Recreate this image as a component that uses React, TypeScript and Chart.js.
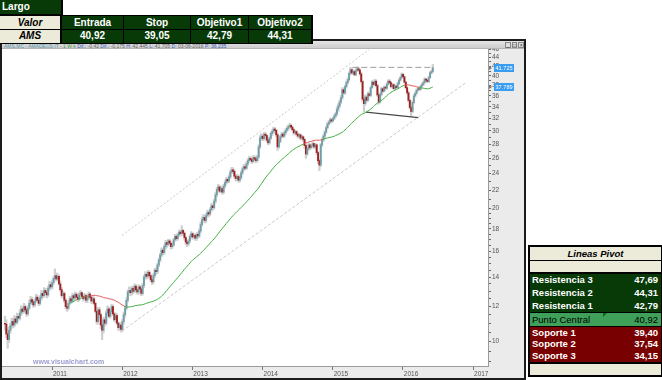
import React, { useEffect, useRef } from 'react';
import { Chart, registerables } from 'chart.js';
Chart.register(...registerables);

// ---------- data ----------
const FIRST_DATE = 2010.33; // first weekly bar (year fraction)
const WEEKS_PER_YEAR = 52;
const FIRST_OPEN = 11.0;

const CLOSE = [
  10.95, 10.40, 10.10, 10.60, 10.85, 11.10, 10.90, 11.25, 11.05, 11.40, 11.30, 11.60, 11.85, 11.70, 12.00, 11.80, 11.55, 11.90, 12.20, 12.45, 12.30, 12.10, 12.35, 12.60, 12.40, 12.20, 12.55, 12.85, 12.70, 13.05, 12.90, 12.75, 13.20, 13.45, 13.30,
  13.60, 13.90, 14.10, 13.85, 14.05, 13.50, 13.10, 12.70, 12.85, 12.40, 12.00, 11.90, 12.20, 12.50, 12.35, 12.70, 12.55, 12.80, 12.60, 12.45, 12.75, 12.90, 12.65, 12.50, 12.70, 12.40,
  12.55, 12.80, 12.60, 12.35, 12.50, 12.20, 11.70, 11.10, 11.80, 11.50, 10.90, 10.60, 11.20, 11.00, 11.60, 11.85, 11.40, 11.70, 12.00, 11.55, 11.20, 11.45, 11.00, 10.75, 10.90, 10.65, 11.10, 11.50, 11.90, 12.40, 12.95, 13.05,
  12.90, 13.20, 13.00, 13.35, 13.10, 12.95, 13.30, 13.15, 12.85, 13.40, 14.00, 14.20, 14.05, 14.35, 14.10, 13.80, 13.65, 14.10, 14.50, 14.40, 14.90, 15.30, 15.70, 16.10, 15.90, 16.40, 16.75, 16.60, 16.90, 16.70, 16.40, 16.55, 17.00, 17.30, 17.10, 17.45, 17.70, 17.55, 17.85, 17.60, 17.20, 16.80, 16.65, 16.90, 17.30, 17.55, 17.25, 17.40, 17.15, 17.50, 17.35,
  17.80, 18.40, 18.90, 19.10, 18.80, 19.30, 19.60, 19.45, 19.90, 20.30, 20.10, 20.80, 21.50, 22.10, 22.40, 21.90, 22.20, 21.80, 22.50, 22.90, 23.30, 23.10, 23.60, 24.20, 24.50, 24.30, 23.70, 23.40, 23.65, 23.20, 23.50, 24.10, 24.60, 24.90, 24.70, 25.30, 25.70, 26.00, 25.80, 25.60, 26.10, 25.90, 25.70, 26.20, 27.60, 28.90,
  29.20, 28.80, 29.50, 29.30, 28.60, 28.20, 28.90, 29.60, 29.90, 30.30, 30.10, 29.40, 27.60, 28.40, 29.10, 29.50, 29.20, 29.70, 30.10, 30.40, 30.70, 30.90, 30.60, 30.20, 29.70, 29.90, 29.50, 29.20, 29.40, 28.90, 29.10, 28.70, 27.80, 26.60, 27.30, 27.90, 27.50, 27.80, 28.10, 27.60, 27.90, 26.80, 25.70, 25.10, 27.90, 28.60, 29.20, 29.80, 30.50, 31.10, 31.40, 31.80, 31.60, 32.00, 32.40, 32.80,
  33.60, 34.20, 34.90, 35.70, 37.20, 36.60, 37.80, 38.60, 39.20, 40.50, 41.30, 40.60, 40.90, 40.20, 41.10, 41.50, 41.20, 40.40, 38.80, 35.40, 34.60, 35.80, 35.20, 36.40, 36.10, 37.60, 38.70, 38.20, 38.90, 38.00, 36.20, 34.90, 36.30, 37.40, 36.90, 37.70, 37.50, 38.30, 38.90, 38.60, 37.80, 38.20, 37.40, 37.90, 37.60, 38.40, 39.10, 39.60, 40.30, 39.80, 38.70, 37.60, 36.60, 35.20, 33.90, 33.20, 34.80, 36.00, 36.50, 37.10, 37.40, 37.30, 37.90, 38.20, 38.60, 39.30, 39.10, 38.80, 39.60, 40.60, 40.90, 41.725,
];

const HIGH = [
  11.40, 11.20, 10.70, 10.80, 11.00, 11.30, 11.25, 11.45, 11.40, 11.60, 11.55, 11.80, 12.05, 12.00, 12.20, 12.10, 11.95, 12.05, 12.40, 12.65, 12.60, 12.45, 12.50, 12.80, 12.75, 12.55, 12.70, 13.05, 13.00, 13.25, 13.20, 13.05, 13.35, 13.70, 13.60,
  13.75, 14.05, 14.60, 14.30, 14.25, 14.15, 13.70, 13.25, 13.00, 12.95, 12.50, 12.20, 12.35, 12.65, 12.60, 12.85, 12.80, 12.95, 12.90, 12.70, 12.90, 13.05, 12.95, 12.80, 12.85, 12.80,
  12.70, 12.95, 12.90, 12.70, 12.65, 12.60, 12.30, 11.85, 11.95, 11.95, 11.60, 11.05, 11.35, 11.35, 11.75, 12.05, 11.95, 11.85, 12.15, 12.10, 11.65, 11.60, 11.55, 11.10, 11.05, 11.00, 11.25, 11.65, 12.05, 12.55, 13.10, 13.30,
  13.25, 13.35, 13.30, 13.50, 13.45, 13.25, 13.45, 13.40, 13.25, 13.55, 14.15, 14.40, 14.35, 14.50, 14.45, 14.20, 13.95, 14.25, 14.65, 14.70, 15.05, 15.45, 15.85, 16.30, 16.25, 16.55, 16.95, 16.90, 17.05, 17.05, 16.85, 16.75, 17.15, 17.50, 17.45, 17.60, 17.90, 17.85, 18.30, 17.95, 17.70, 17.30, 16.95, 17.05, 17.45, 17.75, 17.65, 17.55, 17.50, 17.65, 17.70,
  18.00, 18.65, 19.15, 19.40, 19.30, 19.50, 19.85, 19.80, 20.10, 20.55, 20.50, 21.00, 21.75, 22.35, 22.70, 22.60, 22.45, 22.40, 22.70, 23.15, 23.55, 23.50, 23.85, 24.45, 24.80, 24.75, 24.50, 23.90, 23.90, 23.85, 23.75, 24.35, 24.85, 25.20, 25.10, 25.55, 25.95, 26.30, 26.25, 26.05, 26.40, 26.35, 26.15, 26.45, 27.90, 29.30,
  29.60, 29.40, 29.80, 29.75, 29.40, 28.80, 29.10, 29.85, 30.20, 30.60, 30.55, 30.20, 29.60, 28.70, 29.35, 29.80, 29.70, 29.95, 30.35, 30.70, 30.95, 31.20, 31.10, 30.75, 30.35, 30.15, 30.05, 29.60, 29.65, 29.50, 29.35, 29.25, 28.85, 27.95, 27.60, 28.15, 28.05, 28.00, 28.35, 28.20, 28.10, 28.05, 26.95, 25.95, 28.10, 28.90, 29.45, 30.05, 30.75, 31.40, 31.70, 32.10, 32.00, 32.25, 32.70, 33.10,
  34.00, 34.60, 35.30, 36.10, 37.60, 37.50, 38.10, 38.90, 39.60, 40.80, 41.80, 41.60, 41.30, 41.20, 41.50, 41.90, 41.85, 41.50, 40.70, 39.10, 35.90, 36.20, 36.10, 36.70, 36.80, 37.90, 39.00, 38.95, 39.30, 39.20, 38.30, 36.60, 36.60, 37.70, 37.60, 37.95, 37.90, 38.60, 39.20, 39.20, 38.80, 38.50, 38.40, 38.10, 38.10, 38.70, 39.40, 39.90, 40.60, 40.50, 39.95, 38.90, 37.80, 36.90, 35.40, 34.30, 35.10, 36.30, 36.80, 37.40, 37.70, 37.60, 38.10, 38.50, 38.90, 39.60, 39.50, 39.30, 39.90, 40.90, 41.20, 42.45,
];

const LOW = [
  10.60, 10.20, 9.65, 9.95, 10.45, 10.70, 10.75, 10.80, 10.95, 10.95, 11.15, 11.20, 11.45, 11.55, 11.60, 11.65, 11.40, 11.45, 11.80, 12.10, 12.15, 11.95, 12.00, 12.25, 12.30, 12.05, 12.10, 12.40, 12.55, 12.60, 12.75, 12.55, 12.65, 13.05, 13.15,
  13.15, 13.45, 13.75, 13.70, 13.75, 13.40, 13.00, 12.55, 12.60, 12.25, 11.85, 11.70, 11.80, 12.10, 12.20, 12.25, 12.40, 12.45, 12.50, 12.30, 12.35, 12.65, 12.55, 12.35, 12.40, 12.25,
  12.25, 12.45, 12.50, 12.20, 12.20, 12.10, 11.60, 10.95, 10.95, 11.30, 10.70, 10.10, 10.45, 10.85, 10.90, 11.45, 11.30, 11.30, 11.55, 11.45, 11.10, 11.05, 10.90, 10.60, 10.60, 10.50, 10.55, 10.95, 11.35, 11.80, 12.30, 12.80,
  12.70, 12.75, 12.85, 12.90, 12.95, 12.80, 12.80, 13.00, 12.70, 12.75, 13.25, 13.85, 13.85, 13.90, 13.95, 13.65, 13.45, 13.55, 13.95, 14.20, 14.25, 14.75, 15.15, 15.55, 15.70, 15.75, 16.20, 16.35, 16.45, 16.50, 16.20, 16.25, 16.45, 16.85, 16.95, 16.95, 17.30, 17.35, 17.40, 17.40, 16.95, 16.55, 16.40, 16.50, 16.75, 17.15, 17.05, 17.10, 16.95, 16.95, 17.15,
  17.20, 17.65, 18.25, 18.70, 18.55, 18.60, 19.10, 19.20, 19.30, 19.70, 19.85, 19.95, 20.60, 21.30, 21.90, 21.70, 21.75, 21.55, 21.65, 22.30, 22.70, 22.85, 22.90, 23.40, 24.00, 24.00, 23.45, 23.10, 23.20, 22.95, 23.00, 23.30, 23.90, 24.40, 24.45, 24.55, 25.05, 25.50, 25.50, 25.30, 25.40, 25.65, 25.40, 25.50, 26.00, 27.40,
  28.60, 28.50, 28.60, 29.00, 28.30, 27.90, 28.00, 28.70, 29.30, 29.60, 29.80, 29.10, 27.10, 27.40, 28.20, 28.90, 28.95, 29.00, 29.45, 29.90, 30.10, 30.50, 30.30, 29.95, 29.40, 29.50, 29.20, 28.90, 29.00, 28.60, 28.70, 28.40, 27.40, 26.00, 26.40, 27.10, 27.20, 27.30, 27.60, 27.40, 27.30, 26.50, 25.30, 24.40, 24.90, 27.60, 28.40, 28.95, 29.60, 30.30, 30.90, 31.20, 31.30, 31.40, 31.80, 32.20,
  32.50, 33.20, 33.90, 34.60, 35.40, 36.30, 36.30, 37.50, 38.30, 38.90, 40.20, 40.30, 40.30, 40.00, 40.00, 40.90, 40.90, 40.10, 38.50, 35.00, 33.10, 34.30, 34.90, 35.00, 35.80, 35.90, 37.40, 37.90, 38.00, 37.70, 35.90, 34.50, 34.70, 36.10, 36.70, 36.80, 37.20, 37.30, 38.10, 38.30, 37.50, 37.60, 37.20, 37.30, 37.30, 37.50, 38.20, 38.90, 39.40, 39.60, 38.50, 37.30, 36.30, 34.90, 33.60, 32.30, 33.00, 34.60, 35.80, 36.30, 36.90, 37.00, 37.10, 37.70, 38.00, 38.40, 38.80, 38.60, 38.60, 39.40, 40.40, 40.70,
];

const MA_PERIOD = 50;
const LAST_CLOSE_TAG = 41.725;
const LAST_MA_TAG = 37.789;

const YEAR_TICKS = [2011, 2012, 2013, 2014, 2015, 2016, 2017];
const Y_LABELS = [10, 12, 14, 16, 18, 20, 22, 24, 26, 28, 30, 32, 34, 36, 38, 40, 42, 44, 46];

const UPPER_CHANNEL = [{ x: 2012.0, y: 17.4 }, { x: 2015.52, y: 45.9 }];
const LOWER_CHANNEL = [{ x: 2012.0, y: 10.57 }, { x: 2016.89, y: 38.5 }];
const RESISTANCE = [{ x: 2015.28, y: 41.8 }, { x: 2016.42, y: 41.8 }];
const SUPPORT = [{ x: 2015.475, y: 33.1 }, { x: 2016.22, y: 32.15 }];

const TRADE_HEADERS = ['Entrada', 'Stop', 'Objetivo1', 'Objetivo2'];
const TRADE_VALUES = ['40,92', '39,05', '42,79', '44,31'];
const RESISTANCES = [['Resistencia 3', '47,69'], ['Resistencia 2', '44,31'], ['Resistencia 1', '42,79']];
const PIVOT = ['Punto Central', '40,92'];
const SUPPORTS = [['Soporte 1', '39,40'], ['Soporte 2', '37,54'], ['Soporte 3', '34,15']];

// ---------- styles ----------
const DARK_GREEN = '#073a07';
const DARK_RED = '#780000';
const MID_GREEN = '#3fa05a';
const BEIGE = '#ecebd9';
const UP = '#6f9ea8';
const DOWN = '#a21e1e';
const WICK = '#cfcfcf';
const MA_GREEN = '#3fae3f';
const MA_RED = '#e25555';

const X_MIN = 2010.2874;
const X_MAX = 2017.2135;

export default function App() {
  const ref = useRef<HTMLCanvasElement>(null);

  useEffect(() => {
    document.body.style.margin = '0';
    const dates = CLOSE.map((_, i) => FIRST_DATE + i / WEEKS_PER_YEAR);
    const opens = CLOSE.map((_, i) => (i === 0 ? FIRST_OPEN : CLOSE[i - 1]));
    const wickData = CLOSE.map((_, i) => ({ x: dates[i], y: [LOW[i], HIGH[i]] }));
    const bodyData = CLOSE.map((c, i) => ({ x: dates[i], y: [opens[i], c] }));
    const bodyColors = CLOSE.map((c, i) => (c >= opens[i] ? UP : DOWN));
    const maData: { x: number; y: number }[] = [];
    const maBelow: boolean[] = [];
    for (let i = MA_PERIOD - 1; i < CLOSE.length; i++) {
      let s = 0;
      for (let k = i - MA_PERIOD + 1; k <= i; k++) s += CLOSE[k];
      const m = s / MA_PERIOD;
      maData.push({ x: dates[i], y: m });
      maBelow.push(CLOSE[i] < m);
    }

    const yTicks: number[] = [];
    for (let v = 9; v <= 46.001; v += v < 20 ? 0.5 : 1) yTicks.push(Math.round(v * 10) / 10);

    const bgPlugin = {
      id: 'bg',
      beforeDraw(c: any) {
        const { ctx, chartArea: a, width, height } = c;
        ctx.save();
        ctx.fillStyle = '#ebebeb';
        ctx.fillRect(0, 0, width, height);
        ctx.fillStyle = '#ffffff';
        ctx.fillRect(a.left, a.top, a.right - a.left, a.bottom - a.top);
        ctx.restore();
      },
      afterDraw(c: any) {
        const { ctx, chartArea: a, scales } = c;
        ctx.save();
        ctx.font = '5.6px Arial';
        ctx.textBaseline = 'middle';
        [LAST_CLOSE_TAG, LAST_MA_TAG].forEach((v) => {
          const y = Math.round(scales.y.getPixelForValue(v));
          const x = a.right + 6;
          ctx.fillStyle = '#777';
          ctx.beginPath();
          ctx.moveTo(a.right + 1, y - 2);
          ctx.lineTo(a.right + 4, y);
          ctx.lineTo(a.right + 1, y + 2);
          ctx.fill();
          ctx.fillStyle = '#3a9cf0';
          ctx.fillRect(x, y - 4, 20, 8);
          ctx.fillStyle = '#ffffff';
          ctx.fillText(v.toFixed(3), x + 1.5, y + 0.5);
        });
        ctx.restore();
      },
    };

    const lineBase = { type: 'line' as const, pointRadius: 0, borderWidth: 1, fill: false, tension: 0 };

    const chart = new Chart(ref.current as HTMLCanvasElement, {
      type: 'bar',
      data: {
        datasets: [
          {
            ...lineBase,
            data: maData,
            borderColor: MA_GREEN,
            segment: { borderColor: (ctx: any) => (maBelow[ctx.p1DataIndex] ? MA_RED : MA_GREEN) },
            order: 0,
          },
          { ...lineBase, data: UPPER_CHANNEL, borderColor: '#c9c9c9', borderDash: [2, 2], order: 1 },
          { ...lineBase, data: LOWER_CHANNEL, borderColor: '#c9c9c9', borderDash: [3, 2], order: 2 },
          { ...lineBase, data: RESISTANCE, borderColor: '#9c9c9c', borderDash: [6, 3], order: 3 },
          { ...lineBase, data: SUPPORT, borderColor: '#4a4a4a', borderWidth: 1.3, order: 4 },
          { type: 'bar', data: bodyData as any, backgroundColor: bodyColors, barThickness: 1.2, grouped: false, borderWidth: 0, order: 5 } as any,
          { type: 'bar', data: wickData as any, backgroundColor: WICK, barThickness: 1.6, grouped: false, borderWidth: 0, order: 6 } as any,
        ] as any,
      },
      options: {
        responsive: false,
        devicePixelRatio: 1,
        animation: false,
        layout: { padding: 0 },
        plugins: { legend: { display: false }, tooltip: { enabled: false } },
        scales: {
          x: {
            type: 'linear',
            min: X_MIN,
            max: X_MAX,
            offset: false,
            position: 'bottom',
            afterBuildTicks: (s: any) => {
              s.ticks = YEAR_TICKS.map((v) => ({ value: v }));
            },
            afterFit: (s: any) => {
              s.height = 12;
              s.paddingLeft = 0;
              s.paddingRight = 0;
            },
            ticks: {
              autoSkip: false,
              align: 'start',
              maxRotation: 0,
              padding: 0,
              labelOffset: 1,
              color: '#555',
              font: { size: 6.5, family: 'Arial' },
              callback: (v: any) => String(v),
            },
            grid: { drawOnChartArea: false, offset: false, tickLength: 4, color: '#777' },
            border: { display: true, color: '#9a9a9a' },
          },
          y: {
            type: 'logarithmic',
            position: 'right',
            min: 8.8,
            max: 46.0,
            afterBuildTicks: (s: any) => {
              s.ticks = yTicks.map((v) => ({ value: v }));
            },
            afterFit: (s: any) => {
              s.width = 36;
              s.paddingTop = 0;
              s.paddingBottom = 0;
            },
            ticks: {
              autoSkip: false,
              padding: 1,
              color: '#555',
              font: { size: 6.5, family: 'Arial' },
              callback: (v: any) => (Y_LABELS.includes(Number(v)) ? String(v) : ''),
            },
            grid: { drawOnChartArea: false, tickLength: 3, color: '#666' },
            border: { display: true, color: '#9a9a9a' },
          },
        },
      } as any,
      plugins: [bgPlugin],
    });
    return () => chart.destroy();
  }, []);

  const abs = (left: number, top: number, width: number, height: number, extra: any = {}) => ({
    position: 'absolute' as const,
    left,
    top,
    width,
    height,
    boxSizing: 'border-box' as const,
    ...extra,
  });
  const cellText = {
    display: 'flex',
    alignItems: 'center',
    justifyContent: 'center',
    fontWeight: 700,
    fontSize: 10,
    lineHeight: '10px',
    whiteSpace: 'nowrap',
  };

  const colLeft = [62, 124, 191, 249];
  const colWidth = [61, 66, 57, 62];

  const pivotRow = (label: string, value: string, color: string, weight: number, h: number) => (
    <div
      key={label}
      style={{
        height: h,
        display: 'flex',
        alignItems: 'center',
        justifyContent: 'space-between',
        padding: '0 3px 0 2px',
        color,
        fontWeight: weight,
        fontSize: 9.5,
        lineHeight: '10px',
        whiteSpace: 'nowrap',
      }}
    >
      <span>{label}</span>
      <span>{value}</span>
    </div>
  );

  return (
    <div
      style={{
        position: 'fixed',
        left: 0,
        top: 0,
        width: 662,
        height: 380,
        background: '#fff',
        overflow: 'hidden',
        fontFamily: 'Arial, "Liberation Sans", sans-serif',
      }}
    >
      {/* chart window */}
      <div style={abs(0, 39, 526, 341, { border: '2px solid #1c1c1c', background: '#fff' })}>
        <div
          style={abs(0, 0, 522, 8, {
            background: 'linear-gradient(#e6e6e6, #cdcdcd)',
            borderBottom: '1px solid #b5b5b5',
          })}
        />
        <div
          style={abs(2, 3.2, 300, 5, {
            fontSize: 5,
            lineHeight: '5px',
            whiteSpace: 'nowrap',
            color: '#666',
          })}
        >
          <span style={{ color: '#5a98a8' }}>AMS.MC - AMADEUS IT - </span>
          <span style={{ color: '#4a9a4a' }}>1 W k</span> <span style={{ color: '#3b5bb5' }}>Dif.:</span> -0,42{' '}
          <span style={{ color: '#3b5bb5' }}>Dif.:</span> -0,175 <span style={{ color: '#3b5bb5' }}>H:</span> 42,445{' '}
          <span style={{ color: '#3b5bb5' }}>L:</span> 41,705 <span style={{ color: '#3b5bb5' }}>D:</span> 03-06-2016{' '}
          <span style={{ color: '#3b5bb5' }}>P:</span> <span style={{ color: '#3b5bb5' }}>36,235</span>
        </div>
        <div style={abs(503, 1, 19, 6, { display: 'flex', gap: 1 })}>
          {['_', '□', '×'].map((t) => (
            <div
              key={t}
              style={{
                width: 6,
                height: 6,
                border: '1px solid #888',
                background: '#ddd',
                fontSize: 5,
                lineHeight: '4px',
                textAlign: 'center',
                color: '#333',
                boxSizing: 'border-box',
              }}
            >
              {t}
            </div>
          ))}
        </div>
        <canvas ref={ref} width={522} height={329} style={{ position: 'absolute', left: 0, top: 8, width: 522, height: 329 }} />
        <div
          style={abs(31, 317, 90, 8, {
            fontSize: 7,
            fontWeight: 700,
            lineHeight: '8px',
            color: '#9d9dd0',
            whiteSpace: 'nowrap',
          })}
        >
          www.visualchart.com
        </div>
      </div>

      {/* top-left trade table */}
      <div style={abs(0, 0, 63, 16, { background: '#000' })} />
      <div style={abs(0, 0, 61, 14, { ...cellText, justifyContent: 'flex-start', paddingLeft: 2, background: DARK_GREEN, color: '#fff' })}>
        Largo
      </div>
      <div style={abs(0, 15, 313, 29, { background: '#000' })} />
      <div style={abs(0, 16, 60, 13, { ...cellText, background: BEIGE, color: '#000', fontStyle: 'italic' })}>Valor</div>
      <div style={abs(0, 30, 60, 12.5, { ...cellText, background: BEIGE, color: '#000', fontStyle: 'italic' })}>AMS</div>
      {TRADE_HEADERS.map((h, i) => (
        <div key={h} style={abs(colLeft[i], 16, colWidth[i], 13, { ...cellText, background: DARK_GREEN, color: '#fff' })}>
          {h}
        </div>
      ))}
      {TRADE_VALUES.map((v, i) => (
        <div key={'v' + i} style={abs(colLeft[i], 30, colWidth[i], 12.5, { ...cellText, background: DARK_GREEN, color: '#fff' })}>
          {v}
        </div>
      ))}

      {/* pivot table */}
      <div style={abs(528, 245, 134, 132, { background: '#000' })} />
      <div style={abs(530, 247, 131, 13, { ...cellText, fontSize: 9.5, background: BEIGE, color: '#000', fontStyle: 'italic' })}>
        Lineas Pivot
      </div>
      <div style={abs(530, 261, 131, 11, { background: BEIGE })} />
      <div style={abs(530, 274, 131, 38, { background: DARK_GREEN })}>
        {RESISTANCES.map((r) => pivotRow(r[0], r[1], '#fff', 700, 12.67))}
      </div>
      <div style={abs(530, 313, 131, 13, { background: MID_GREEN })}>{pivotRow(PIVOT[0], PIVOT[1], '#000', 400, 13)}</div>
      <div
        style={abs(603, 313, 0, 0, {
          borderTop: '4px solid #0b6b0b',
          borderRight: '4px solid transparent',
          width: 0,
          height: 0,
        })}
      />
      <div style={abs(530, 327, 131, 35, { background: DARK_RED })}>
        {SUPPORTS.map((r) => pivotRow(r[0], r[1], '#fff', 700, 11.67))}
      </div>
      <div style={abs(530, 364, 131, 11, { background: BEIGE })} />
    </div>
  );
}
